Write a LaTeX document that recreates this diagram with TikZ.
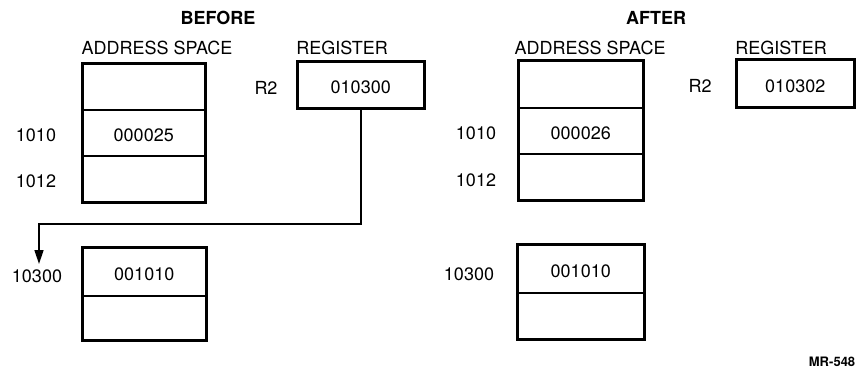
\documentclass[tikz,border=0pt]{standalone}
\usepackage{fontspec}
\setmainfont{TeX Gyre Heros}
\usetikzlibrary{arrows.meta}
\begin{document}
\begin{tikzpicture}[x=1pt,y=-1pt,
  txt/.style={font=\fontsize{18}{21}\selectfont, inner sep=0pt},
  head/.style={font=\fontsize{18}{21}\selectfont\bfseries, inner sep=0pt},
  cell/.style={draw, line width=1.5pt, anchor=north west, inner sep=0pt,
    font=\fontsize{18}{21}\selectfont, text height=18pt, text depth=0pt},
  outer/.style={draw, line width=2.8pt},
  conn/.style={draw, line width=1.6pt},
  tip/.style={-{Triangle[length=14pt,width=9pt]}}]
\useasboundingbox (0,0) rectangle (857,368);
% ---------- BEFORE ----------
\node[head] (before) at (218,18) {BEFORE};
\node[txt] (bas) at (157,48) {ADDRESS SPACE};
\node[txt] (breg) at (342,48) {REGISTER};
\node[cell, minimum width=122pt, minimum height=46pt] (bA1) at (82,63) {};
\node[cell, minimum width=122pt, minimum height=46pt] (bA2) at (82,109) {000025};
\node[cell, minimum width=122pt, minimum height=46pt] (bA3) at (82,155) {};
\draw[outer] (bA1.north west) rectangle (bA3.south east);
\node[txt] (b1010) at (36,135) {1010};
\node[txt] (b1012) at (36,181) {1012};
\node[cell, minimum width=126pt, minimum height=46pt] (bR) at (297,61) {010300};
\draw[outer] (bR.north west) rectangle (bR.south east);
\node[txt] (bR2) at (266,88) {R2};
\node[cell, minimum width=123pt, minimum height=48pt] (bB1) at (82,247) {001010};
\node[cell, minimum width=123pt, minimum height=44pt] (bB2) at (82,295) {};
\draw[outer] (bB1.north west) rectangle (bB2.south east);
\node[txt] (b10300) at (37,276) {10300};
\coordinate (bend) at (39,224);
\coordinate (arrtip) at (39,264);
\draw[conn,tip] (bR.south) |- (bend) -- (arrtip);
% ---------- AFTER ----------
\node[head] (after) at (656,18) {AFTER};
\node[txt] (aas) at (590,48) {ADDRESS SPACE};
\node[txt] (areg) at (781,48) {REGISTER};
\node[cell, minimum width=124pt, minimum height=47pt] (aA1) at (518,60) {};
\node[cell, minimum width=124pt, minimum height=46pt] (aA2) at (518,107) {000026};
\node[cell, minimum width=124pt, minimum height=46pt] (aA3) at (518,153) {};
\draw[outer] (aA1.north west) rectangle (aA3.south east);
\node[txt] (a1010) at (476,133) {1010};
\node[txt] (a1012) at (476,180) {1012};
\node[cell, minimum width=117pt, minimum height=47pt] (aR) at (736,59) {010302};
\draw[outer] (aR.north west) rectangle (aR.south east);
\node[txt] (aR2) at (700,86) {R2};
\node[cell, minimum width=126pt, minimum height=48pt] (aB1) at (517,244) {001010};
\node[cell, minimum width=126pt, minimum height=46pt] (aB2) at (517,292) {};
\draw[outer] (aB1.north west) rectangle (aB2.south east);
\node[txt] (a10300) at (469,274) {10300};
\node[inner sep=0pt, font=\fontsize{13}{15}\selectfont\bfseries] (mr) at (832,362) {MR-548};
\end{tikzpicture}
\end{document}
